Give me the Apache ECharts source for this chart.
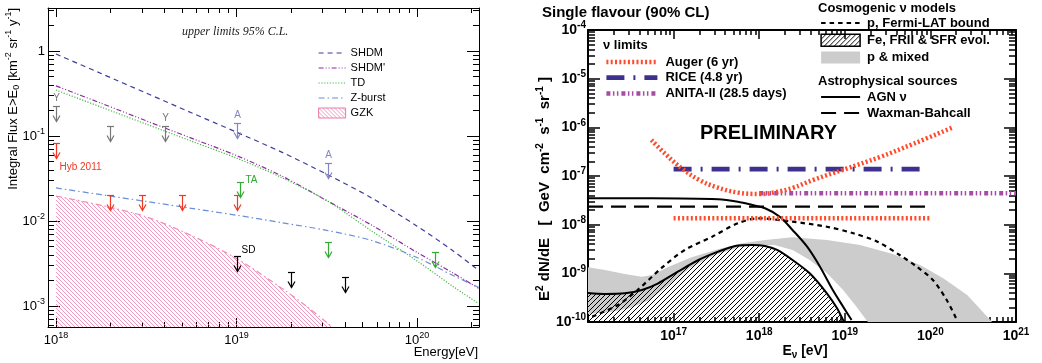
<!DOCTYPE html>
<html>
<head>
<meta charset="utf-8">
<script src="https://cdn.jsdelivr.net/npm/echarts@6.0.0/dist/echarts.min.js"></script>
<style>
html,body{margin:0;padding:0;background:#ffffff;}
#chart{width:1042px;height:363px;}
</style>
</head>
<body>
<div id="chart"></div>
<script>
// ================= LEFT PANEL: integral flux, upper limits 95% C.L. =================
const leftEnergy = [1e18, 1.78e18, 3.16e18, 5.62e18, 1e19, 1.78e19, 3.16e19, 5.62e19, 1e20, 1.58e20, 2.19e20];
const shdm       = [0.923, 0.543, 0.320, 0.188, 0.111, 0.0646, 0.0355, 0.0186, 0.0087, 0.00447, 0.00263];
const shdmPrime  = [0.389, 0.243, 0.151, 0.0944, 0.0589, 0.0339, 0.0174, 0.00891, 0.00427, 0.00245, 0.00162];
const td         = [0.347, 0.219, 0.138, 0.0871, 0.0550, 0.0324, 0.0174, 0.00759, 0.00339, 0.00170, 0.00107];
const zBurst     = [0.0245, 0.0204, 0.0170, 0.0141, 0.0117, 0.00955, 0.00776, 0.00589, 0.00372, 0.00229, 0.00166];
const gzkEnergy  = [1e18, 1.78e18, 3.16e18, 5.62e18, 1e19, 1.78e19, 2.5e19, 3.4e19];
const gzk        = [0.0197, 0.0153, 0.0112, 0.00676, 0.00363, 0.00162, 0.000955, 0.000562];

// upper-limit arrows: [E (eV), flux]
const limitsY   = [[1e18, 0.225], [2e18, 0.131], [4e18, 0.131]];
const labelsY   = ['Y', '', 'Y'];
const limitsA   = [[1e19, 0.143], [3.2e19, 0.0485]];
const labelsA   = ['A', 'A'];
const limitsHyb = [[1e18, 0.0835], [2e18, 0.0202], [3e18, 0.0202], [5e18, 0.0202], [1e19, 0.0202]];
const labelsHyb = ['Hyb 2011', '', '', '', ''];
const limitsTA  = [[1.05e19, 0.0285], [3.2e19, 0.00571], [1.25e20, 0.00428]];
const labelsTA  = ['TA', '', ''];
const limitsSD  = [[1e19, 0.00388], [2e19, 0.00253], [4e19, 0.00221]];
const labelsSD  = ['SD', '', ''];

// ================= RIGHT PANEL: single flavour (90% CL) =================
const augerDiff = [[5.5e16, 5.5e-7], [7.94e16, 2.88e-7], [1.26e17, 1.41e-7], [2.0e17, 8.3e-8], [3.16e17, 5.9e-8],
  [5.62e17, 4.57e-8], [1e18, 4.27e-8], [1.58e18, 4.68e-8], [2.51e18, 5.75e-8], [4.27e18, 8.3e-8],
  [1e19, 1.38e-7], [2.57e19, 2.45e-7], [6.31e19, 4.57e-7], [1.78e20, 9.77e-7]];
const augerInt  = [[1e17, 1.35e-8], [1e20, 1.35e-8]];
const rice      = [[1e17, 1.39e-7], [8.9e19, 1.39e-7]];
const anita     = [[1e18, 4.4e-8], [1e21, 4.4e-8]];
const waxman    = [[1e16, 2.34e-8], [1e20, 2.34e-8]];
const agn = [[1e16, 3.48e-8], [5.62e16, 3.48e-8], [3.31e17, 3.32e-8], [5.62e17, 2.96e-8], [8.32e17, 2.54e-8],
  [1.17e18, 2.17e-8], [1.74e18, 1.46e-8], [2.45e18, 7.78e-9], [3.63e18, 3.53e-9], [5.13e18, 1.37e-9],
  [7.24e18, 4.55e-10], [9.55e18, 2.07e-10], [1.2e19, 1.1e-10]];
const fermi = [[1.12e16, 1.29e-10], [2.24e16, 2.24e-10], [3.8e16, 4.55e-10], [7.24e16, 1.29e-9], [1.35e17, 3.02e-9],
  [2.82e17, 5.66e-9], [5.62e17, 1.07e-8], [9.77e17, 1.35e-8], [2.45e18, 1.15e-8], [6.17e18, 9.08e-9],
  [1.26e19, 6.65e-9], [2.4e19, 4.47e-9], [4.37e19, 2.38e-9], [6.92e19, 1.37e-9], [1.07e20, 7.29e-10],
  [1.55e20, 2.83e-10], [2.04e20, 1.1e-10]];
const feFrii = [[1e16, 3.94e-10], [1.58e16, 3.77e-10], [2.69e16, 3.89e-10], [4.27e16, 4.55e-10], [6.61e16, 6.24e-10],
  [1.12e17, 1.08e-9], [1.95e17, 1.88e-9], [3.31e17, 2.79e-9], [5.25e17, 3.65e-9], [8.32e17, 3.82e-9],
  [1.17e18, 3.65e-9], [1.62e18, 3.02e-9], [2.45e18, 1.88e-9], [3.89e18, 1.0e-9], [6.17e18, 3.89e-10],
  [8.13e18, 1.91e-10], [9.55e18, 1.1e-10], [1e19, 1e-10]];
const pMixedUpper = [[1e16, 1.33e-9], [1.58e16, 1.17e-9], [2.69e16, 9.7e-10], [4.27e16, 8.53e-10], [5.62e16, 9.25e-10],
  [8.51e16, 1.33e-9], [1.62e17, 2.14e-9], [3.31e17, 3.12e-9], [6.31e17, 4.14e-9], [1.17e18, 4.84e-9],
  [2.45e18, 5.51e-9], [6.17e18, 4.84e-9], [1.51e19, 3.82e-9], [3.63e19, 2.5e-9], [7.59e19, 1.49e-9],
  [1.41e20, 7.91e-10], [2.69e20, 3.59e-10], [5.01e20, 1.1e-10], [5.25e20, 1e-10]];
const pMixedLower = [[1e16, 1.46e-10], [1.82e16, 1.61e-10], [3.09e16, 1.94e-10], [5.25e16, 2.83e-10], [8.51e16, 5.5e-10],
  [1.55e17, 1.29e-9], [3.02e17, 2.38e-9], [6.03e17, 3.48e-9], [1.02e18, 3.82e-9], [1.51e18, 3.82e-9],
  [2.45e18, 3.02e-9], [3.89e18, 1.88e-9], [6.17e18, 1.02e-9], [9.55e18, 4.55e-10], [1.32e19, 2.24e-10],
  [1.86e19, 1e-10]];

// ================= helpers =================
const FONT = 'Liberation Sans';
const zip = (xs, ys) => xs.map((x, i) => [x, ys[i]]);

function hatch(color, size, dir, lw) {
  const c = document.createElement('canvas');
  c.width = size; c.height = size;
  const g = c.getContext('2d');
  g.strokeStyle = color; g.lineWidth = lw;
  g.beginPath();
  if (dir > 0) { // '/'
    g.moveTo(0, size); g.lineTo(size, 0);
    g.moveTo(-size / 2, size / 2); g.lineTo(size / 2, -size / 2);
    g.moveTo(size / 2, size * 1.5); g.lineTo(size * 1.5, size / 2);
  } else { // '\'
    g.moveTo(0, 0); g.lineTo(size, size);
    g.moveTo(-size / 2, size / 2); g.lineTo(size / 2, size * 1.5);
    g.moveTo(size / 2, -size / 2); g.lineTo(size * 1.5, size / 2);
  }
  g.stroke();
  return c;
}
const gzkPattern = {image: hatch('#ec78aa', 4, -1, 0.75), repeat: 'repeat'};
const fePattern  = {image: hatch('#000000', 5, 1, 1), repeat: 'repeat'};

function expLabel(hide) {
  return function (v) {
    const e = Math.log10(v), r = Math.round(e);
    if (Math.abs(e - r) > 1e-6) return '';
    if (hide && hide.indexOf(r) >= 0) return '';
    if (r === 0) return '{b|1}';
    return '{b|10}{s|' + r + '}';
  };
}
function richFor(size, bold) {
  const w = bold ? 'bold' : 'normal';
  return {
    b: {fontFamily: FONT, fontSize: size, fontWeight: w, color: '#000', lineHeight: size + 5},
    s: {fontFamily: FONT, fontSize: Math.round(size * 0.7), fontWeight: w, color: '#000', verticalAlign: 'top', lineHeight: Math.round(size * 0.7)}
  };
}
function makeAxis(gridIndex, pos, range, cfg, showLabels, hideExp) {
  return {
    type: 'log', logBase: 10, gridIndex: gridIndex, position: pos, min: range[0], max: range[1],
    axisLine: {show: true, onZero: false, lineStyle: {color: '#000', width: cfg.lw}},
    axisTick: {show: true, inside: true, length: cfg.major, lineStyle: {color: '#000', width: cfg.tw}},
    minorTick: {show: true, splitNumber: 9, length: cfg.minor, lineStyle: {color: '#000', width: cfg.tw}},
    splitLine: {show: false}, minorSplitLine: {show: false},
    axisLabel: showLabels ? {show: true, margin: cfg.margin, formatter: expLabel(hideExp), rich: richFor(cfg.fs, cfg.bold)} : {show: false},
    axisPointer: {show: false}
  };
}
function lineSeries(name, data, xi, color, width, type, extra) {
  return Object.assign({
    type: 'line', name: name, data: data, xAxisIndex: xi, yAxisIndex: xi,
    symbol: 'none', showSymbol: false, silent: true, smooth: false,
    lineStyle: {color: color, width: width, type: type}, itemStyle: {color: color},
    emphasis: {disabled: true}, z: 3, animation: false
  }, extra || {});
}
function arrowSeries(name, pts, labels, color, lp) {
  return {
    type: 'custom', name: name, xAxisIndex: 0, yAxisIndex: 0, silent: true, z: 6,
    data: pts,
    renderItem: function (params, api) {
      const p = api.coord([api.value(0), api.value(1)]);
      const x = Math.round(p[0]) + 0.5, y = Math.round(p[1]) + 0.5;
      const st = {stroke: color, lineWidth: 1.2, fill: 'none'};
      const ch = [
        {type: 'line', shape: {x1: x - 3.5, y1: y, x2: x + 3.5, y2: y}, style: st},
        {type: 'line', shape: {x1: x, y1: y, x2: x, y2: y + 15}, style: st},
        {type: 'polyline', shape: {points: [[x - 3.5, y + 9], [x, y + 15], [x + 3.5, y + 9]]}, style: st}
      ];
      const t = labels[params.dataIndex];
      if (t) ch.push({type: 'text', x: x + lp[0], y: y + lp[1],
        style: {text: t, fill: color, fontFamily: FONT, fontSize: 10, align: lp[2], verticalAlign: 'middle'}});
      return {type: 'group', children: ch};
    }
  };
}

const LX = {lw: 1, tw: 1, major: 9, minor: 5, margin: 4, fs: 13, bold: false};
const LY = {lw: 1, tw: 1, major: 12, minor: 6, margin: 3, fs: 13, bold: false};
const RX = {lw: 2, tw: 1.5, major: 9, minor: 5, margin: 5, fs: 14, bold: true};
const RY = {lw: 2, tw: 1.5, major: 12, minor: 7, margin: 2, fs: 14, bold: true};
const leftXRange = [Math.pow(10, 17.956), Math.pow(10, 20.343)];
const leftYRange = [Math.pow(10, -3.247), Math.pow(10, 0.506)];
const rightXRange = [1e16, 1e21];
const rightYRange = [1e-10, 1e-4];

const supStyle = (fs, w) => ({
  sup: {fontFamily: FONT, fontSize: fs, fontWeight: w, fill: '#000', verticalAlign: 'top', lineHeight: fs},
  sub: {fontFamily: FONT, fontSize: fs, fontWeight: w, fill: '#000', verticalAlign: 'bottom', lineHeight: fs}
});
const legendCommon = {orient: 'vertical', padding: 0, selectedMode: false,
  lineStyle: {width: 'inherit'}, itemStyle: {opacity: 0}};

const option = {
  animation: false,
  backgroundColor: '#ffffff',
  grid: [
    {left: 48, top: 8, width: 431, height: 319},
    {left: 588, top: 30, width: 428, height: 292}
  ],
  xAxis: [
    makeAxis(0, 'bottom', leftXRange, LX, true),
    makeAxis(0, 'top', leftXRange, LX, false),
    makeAxis(1, 'bottom', rightXRange, RX, true, [16]),
    makeAxis(1, 'top', rightXRange, RX, false)
  ],
  yAxis: [
    makeAxis(0, 'left', leftYRange, LY, true),
    makeAxis(0, 'right', leftYRange, LY, false),
    makeAxis(1, 'left', rightYRange, RY, true),
    makeAxis(1, 'right', rightYRange, RY, false)
  ],
  legend: [
    Object.assign({}, legendCommon, {left: 318, top: 47.5, itemWidth: 27, itemHeight: 10, itemGap: 4,
     textStyle: {fontFamily: FONT, fontSize: 11, color: '#000'},
     data: ['SHDM', "SHDM'", 'TD', 'Z-burst',
       {name: 'GZK', icon: 'rect', itemStyle: {opacity: 1, color: gzkPattern, borderColor: '#ec78aa', borderWidth: 1}}]}),
    Object.assign({}, legendCommon, {left: 604, top: 55.5, itemWidth: 51, itemHeight: 13, itemGap: 2.7,
     textStyle: {fontFamily: FONT, fontSize: 13, fontWeight: 'bold', color: '#000', padding: [0, 0, 0, 3]},
     data: ['Auger (6 yr)', 'RICE (4.8 yr)', 'ANITA-II (28.5 days)']}),
    Object.assign({}, legendCommon, {left: 820, top: 16.5, itemWidth: 39, itemHeight: 12, itemGap: 4,
     textStyle: {fontFamily: FONT, fontSize: 13, fontWeight: 'bold', color: '#000', padding: [0, 0, 0, 2]},
     data: ['p, Fermi-LAT bound',
       {name: 'Fe, FRII & SFR evol.', icon: 'rect', itemStyle: {opacity: 1, color: fePattern, borderColor: '#000', borderWidth: 1.5}},
       {name: 'p & mixed', icon: 'rect', itemStyle: {opacity: 1, color: '#cccccc', borderWidth: 0}}]}),
    Object.assign({}, legendCommon, {left: 820, top: 90.5, itemWidth: 39, itemHeight: 13, itemGap: 3,
     textStyle: {fontFamily: FONT, fontSize: 13, fontWeight: 'bold', color: '#000', padding: [0, 0, 0, 2]},
     data: ['AGN ν', 'Waxman-Bahcall']})
  ],
  graphic: [
    {type: 'text', x: 182, y: 32, style: {text: 'upper limits 95% C.L.', fontFamily: 'Liberation Serif', fontStyle: 'italic', fontSize: 12, fill: '#222', verticalAlign: 'middle'}},
    {type: 'text', x: 13, y: 8, rotation: Math.PI / 2,
     style: {text: 'Integral Flux E>E{sub|0} [km{sup|-2} sr{sup|-1} y{sup|-1}]', fontFamily: FONT, fontSize: 13, fill: '#000',
       align: 'right', verticalAlign: 'middle', lineHeight: 17, rich: supStyle(9, 'normal')}},
    {type: 'text', x: 478, y: 352, style: {text: 'Energy[eV]', fontFamily: FONT, fontSize: 13, fill: '#000', align: 'right', verticalAlign: 'middle'}},
    {type: 'text', x: 542, y: 13, style: {text: 'Single flavour (90% CL)', fontFamily: FONT, fontSize: 15, fontWeight: 'bold', fill: '#000', verticalAlign: 'middle'}},
    {type: 'text', x: 545, y: 77, rotation: Math.PI / 2,
     style: {text: 'E{sup|2} dN/dE   [  GeV  cm{sup|-2}  s{sup|-1}  sr{sup|-1} ]', fontFamily: FONT, fontSize: 15, fontWeight: 'bold', fill: '#000',
       align: 'right', verticalAlign: 'middle', lineHeight: 19, rich: supStyle(10, 'bold')}},
    {type: 'text', x: 805, y: 351,
     style: {text: 'E{sub|ν} [eV]', fontFamily: FONT, fontSize: 14, fontWeight: 'bold', fill: '#000',
       align: 'center', verticalAlign: 'middle', lineHeight: 18, rich: supStyle(10, 'bold')}},
    {type: 'text', x: 603, y: 45.5, style: {text: 'ν limits', fontFamily: FONT, fontSize: 13, fontWeight: 'bold', fill: '#000', verticalAlign: 'middle'}},
    {type: 'text', x: 818, y: 8, style: {text: 'Cosmogenic ν models', fontFamily: FONT, fontSize: 13, fontWeight: 'bold', fill: '#000', verticalAlign: 'middle'}},
    {type: 'text', x: 818, y: 81, style: {text: 'Astrophysical sources', fontFamily: FONT, fontSize: 13, fontWeight: 'bold', fill: '#000', verticalAlign: 'middle'}},
    {type: 'text', x: 700, y: 133, style: {text: 'PRELIMINARY', fontFamily: FONT, fontSize: 20, fontWeight: 'bold', fill: '#000', verticalAlign: 'middle'}}
  ],
  series: [
    // ---- left panel ----
    lineSeries('GZK', zip(gzkEnergy, gzk), 0, '#ec8cb8', 1.2, [6, 3, 1.5, 3],
      {smooth: 0.3, z: 1, areaStyle: {color: gzkPattern, origin: 'start', opacity: 1}}),
    lineSeries('SHDM', zip(leftEnergy, shdm), 0, '#3c3c99', 1.2, [5, 4], {smooth: 0.3}),
    lineSeries("SHDM'", zip(leftEnergy, shdmPrime), 0, '#8b2a9e', 1.2, [5, 2, 1, 2, 1, 2], {smooth: 0.3}),
    lineSeries('TD', zip(leftEnergy, td), 0, '#44b844', 1.2, [1.2, 1.6], {smooth: 0.3}),
    lineSeries('Z-burst', zip(leftEnergy, zBurst), 0, '#6a8fd8', 1.2, [6, 3, 1.5, 3], {smooth: 0.3}),
    arrowSeries('limY', limitsY, labelsY, '#777777', [0, -8, 'center']),
    arrowSeries('limA', limitsA, labelsA, '#8585c4', [0, -8, 'center']),
    arrowSeries('limHyb', limitsHyb, labelsHyb, '#ee3a24', [3, 24, 'left']),
    arrowSeries('limTA', limitsTA, labelsTA, '#33aa33', [5, -2, 'left']),
    arrowSeries('limSD', limitsSD, labelsSD, '#000000', [4, -6, 'left']),
    // ---- right panel ----
    {
      type: 'custom', name: 'p & mixed', xAxisIndex: 2, yAxisIndex: 2, silent: true, z: 1, clip: true,
      itemStyle: {color: '#cccccc'},
      data: pMixedUpper.concat(pMixedLower.slice().reverse()),
      renderItem: function (params, api) {
        if (params.dataIndex !== 0) return null;
        const pts = pMixedUpper.concat(pMixedLower.slice().reverse()).map(p => api.coord(p));
        return {type: 'polygon', z2: 0, shape: {points: pts}, style: {fill: '#cccccc', stroke: 'none'}};
      }
    },
    lineSeries('Fe, FRII & SFR evol.', feFrii, 2, '#000000', 2, 'solid',
      {smooth: 0.3, z: 4, areaStyle: {color: fePattern, origin: 'start', opacity: 1}}),
    lineSeries('p, Fermi-LAT bound', fermi, 2, '#000000', 2.2, [4.5, 4], {smooth: 0.3, z: 5}),
    lineSeries('AGN ν', agn, 2, '#000000', 2, 'solid', {smooth: 0.3, z: 5}),
    lineSeries('Waxman-Bahcall', waxman, 2, '#000000', 2.2, [15, 8], {z: 5}),
    lineSeries('ANITA-II (28.5 days)', anita, 2, '#a64ca6', 4.5, [4, 2.5, 1.5, 2.5, 1.5, 3], {z: 5}),
    lineSeries('RICE (4.8 yr)', rice, 2, '#3d318f', 4.8, [18, 9, 2, 9], {z: 5}),
    lineSeries('Auger (6 yr)', augerDiff, 2, '#ff4b2b', 4.5, [2, 2.3], {smooth: 0.4, z: 6}),
    lineSeries('Auger (6 yr)', augerInt, 2, '#ff4b2b', 4.5, [2, 2.3], {z: 6})
  ]
};

const chart = echarts.init(document.getElementById('chart'), null, {renderer: 'canvas', width: 1042, height: 363});
chart.setOption(option);
</script>
</body>
</html>
